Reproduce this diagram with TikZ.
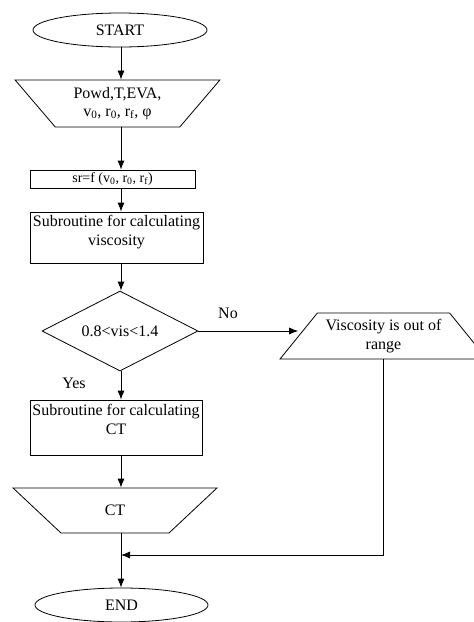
\documentclass[tikz,border=0pt]{standalone}
\usepackage{fontspec}
\setmainfont{Liberation Serif}
\usetikzlibrary{shapes.geometric,
  arrows.meta
}
\tikzset{>={Latex[length=9pt,width=7pt]}}

\begin{document}
\begin{tikzpicture}[x=1pt,y=-1pt,line width=0.8pt,font=\fontsize{16}{19}\selectfont,
  term/.style={draw,ellipse,inner sep=0pt,minimum width=174pt,minimum height=34pt},
  iobox/.style={draw,trapezium,trapezium stretches=true,trapezium angle=48,inner sep=1pt,align=center},
  proc/.style={draw,rectangle,inner sep=2pt,align=center},
  decide/.style={draw,diamond,shape aspect=2,inner sep=0pt,minimum width=156pt,minimum height=80pt}]
  \useasboundingbox (0,0) rectangle (474,622);
  \coordinate (axis) at (121,0);

  % Main column
  \node[term] (start) at (120,30) {START};
  \node[iobox,trapezium angle=130,minimum width=205pt,minimum height=47pt] (in) at (117.5,103.5)
    {Powd,T,EVA,\\[-1pt] v\textsubscript{0}, r\textsubscript{0}, r\textsubscript{f}, φ};
  \node[proc,minimum width=165pt,minimum height=18pt,inner sep=0pt,font=\fontsize{14}{16}\selectfont] (sr) at (112.5,179)
    {sr=f (v\textsubscript{0}, r\textsubscript{0}, r\textsubscript{f})};
  \node[proc,minimum width=173pt,minimum height=51pt,text depth=14pt] (visc) at (116.5,237.5) {Subroutine for calculating\\viscosity};
  \node[decide] (dec) at (120,331) {0.8<vis<1.4};
  \node[proc,minimum width=172pt,minimum height=55pt,text depth=16pt] (ct) at (116,427.5) {Subroutine for calculating\\CT};
  \node[iobox,trapezium angle=128,minimum width=204pt,minimum height=45pt] (out) at (115,510.5) {CT};
  \node[term,minimum width=173pt] (end) at (121.5,605) {END};

  % Out of range
  \node[iobox,trapezium angle=47,minimum width=207pt,minimum height=46pt] (range) at (383.5,336)
    {Viscosity is out of\\range};
  \node (no) at (228,313) {No};
  \node (yes) at (74,383) {Yes};
  \coordinate (join) at (121,555);

  \draw[->] (start.south -| axis) -- (in.north -| axis);
  \draw[->] (in.south -| axis) -- (sr.north -| axis);
  \draw[->] (sr.south -| axis) -- (visc.north -| axis);
  \draw[->] (visc.south -| axis) -- (dec.north -| axis);
  \draw[->] (dec.south -| axis) -- (ct.north -| axis);
  \draw[->] (ct.south -| axis) -- (out.north -| axis);
  \draw[->] (out.south -| axis) -- (end.north -| axis);
  \draw[->] (dec.east) -- (dec.east -| range.west);
  \draw[->] (range.south) |- (join);
\end{tikzpicture}
\end{document}
